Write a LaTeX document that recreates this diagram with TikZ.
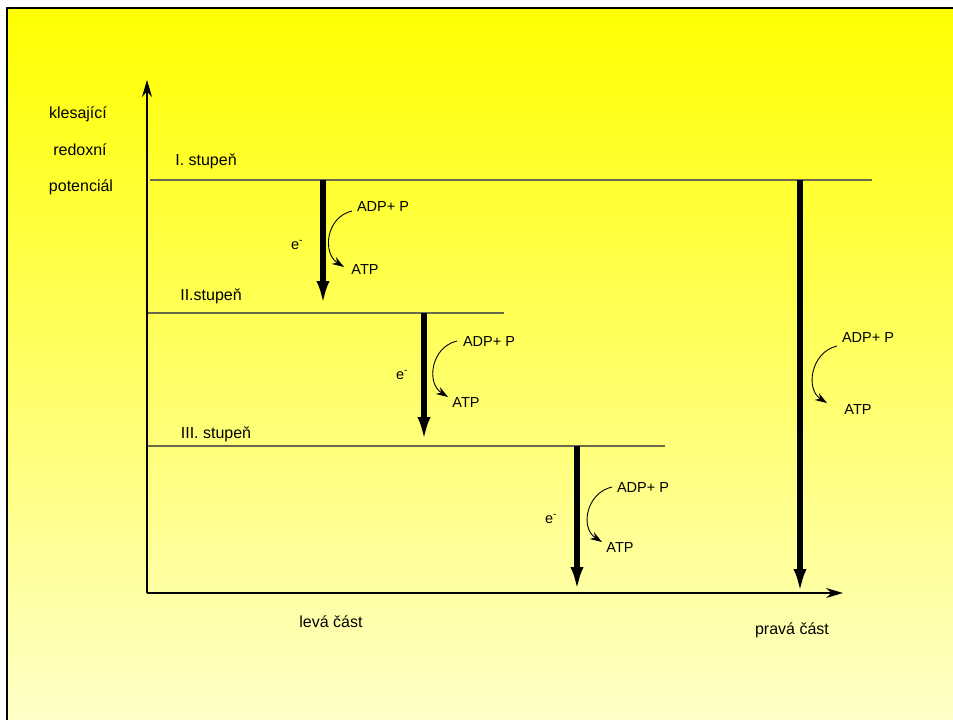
\documentclass[tikz,border=0pt]{standalone}
\usepackage{fontspec}
\setmainfont{Liberation Sans}
\usetikzlibrary{arrows.meta}
\definecolor{levelgray}{RGB}{105,105,75}
\definecolor{paleyellow}{RGB}{255,255,200}
\begin{document}
\begin{tikzpicture}[x=1pt,y=-1pt,
  lbl/.style={font=\fontsize{14.5}{17}\selectfont, inner sep=0pt, text height=11pt, text depth=3pt},
  biglbl/.style={lbl, font=\fontsize{16}{19}\selectfont},
  levelline/.style={draw=levelgray, line width=1.3pt},
  axis/.style={line width=1.4pt, -{Stealth[length=17pt,width=10pt]}},
  transfer/.style={line width=6.5pt, -{Latex[length=24pt,width=13pt]}},
  phos/.style={line width=0.9pt, -{Stealth[length=12pt,width=8pt]}}]

% page and framed, shaded panel
\useasboundingbox (0,0) rectangle (953,720);
\fill[white] (0,0) rectangle (953,720);
\shade[top color=yellow, bottom color=paleyellow] (7,8) rectangle (953,720);
\draw[line width=2.2pt] (7,720) -- (7,8) -- (953,8);

% axes
\coordinate (origin) at (147,593);
\coordinate (ytop) at (147,80);
\coordinate (xend) at (843,593);
\draw[axis] (origin) -- (ytop);
\draw[axis] (origin) -- (xend);

% axis labels
\node[biglbl] (y1) at (78,114) {klesající};
\node[biglbl] (y2) at (80,151) {redoxní};
\node[biglbl] (y3) at (81,187) {potenciál};
\node[biglbl] (left) at (331,623) {levá část};
\node[biglbl] (right) at (792,630) {pravá část};

% energy levels
\coordinate (l1a) at (150,180); \coordinate (l1b) at (872,180);
\coordinate (l2a) at (148,313); \coordinate (l2b) at (504,313);
\coordinate (l3a) at (148,446); \coordinate (l3b) at (665,446);
\draw[levelline] (l1a) -- (l1b);
\draw[levelline] (l2a) -- (l2b);
\draw[levelline] (l3a) -- (l3b);
\node[biglbl] (s1) at (206,161) {I. stupeň};
\node[biglbl] (s2) at (211,296) {II.stupeň};
\node[biglbl] (s3) at (216,434) {III. stupeň};

% electron transfer steps
\coordinate (t1a) at (323,180); \coordinate (t1b) at (323,305);
\coordinate (t2a) at (424,313); \coordinate (t2b) at (424,441);
\coordinate (t3a) at (577,446); \coordinate (t3b) at (577,591);
\coordinate (t4a) at (800,180); \coordinate (t4b) at (800,593);
\draw[transfer] (t1a) -- (t1b);
\draw[transfer] (t2a) -- (t2b);
\draw[transfer] (t3a) -- (t3b);
\draw[transfer] (t4a) -- (t4b);

\node[lbl] (e1) at (297,245) {e\textsuperscript{-}};
\node[lbl] (e2) at (402,375) {e\textsuperscript{-}};
\node[lbl] (e3) at (551,519) {e\textsuperscript{-}};

% phosphorylation
\node[lbl] (adp1) at (383,207) {ADP+ P};
\node[lbl] (atp1) at (365,270) {ATP};
\node[lbl] (adp2) at (489,342) {ADP+ P};
\node[lbl] (atp2) at (466,403) {ATP};
\node[lbl] (adp3) at (643,488) {ADP+ P};
\node[lbl] (atp3) at (620,548) {ATP};
\node[lbl] (adp4) at (868,338) {ADP+ P};
\node[lbl] (atp4) at (858,410) {ATP};

\coordinate (p1a) at (352,211); \coordinate (p1b) at (344,267);
\coordinate (p2a) at (457,341); \coordinate (p2b) at (448,397);
\coordinate (p3a) at (612,487); \coordinate (p3b) at (602,542);
\coordinate (p4a) at (837,346); \coordinate (p4b) at (827,403);
\draw[phos] (p1a) .. controls +(-26,6) and +(-22,-14) .. (p1b);
\draw[phos] (p2a) .. controls +(-26,6) and +(-22,-14) .. (p2b);
\draw[phos] (p3a) .. controls +(-26,6) and +(-22,-14) .. (p3b);
\draw[phos] (p4a) .. controls +(-26,6) and +(-22,-14) .. (p4b);
\end{tikzpicture}
\end{document}
